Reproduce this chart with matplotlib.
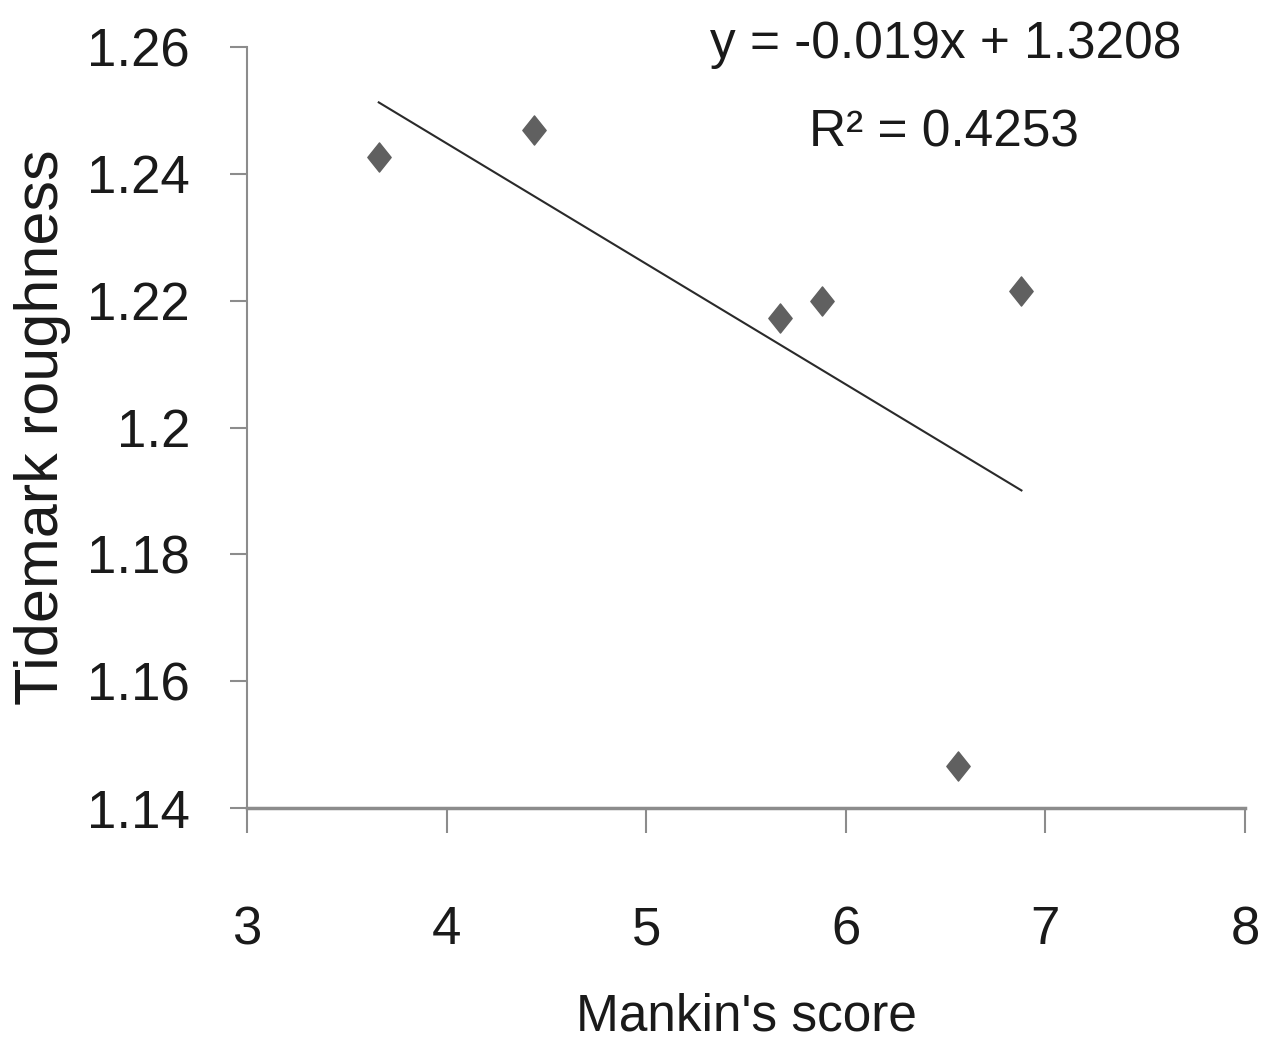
import matplotlib
matplotlib.use("Agg")
import matplotlib.pyplot as plt
import numpy as np
from matplotlib.path import Path

# Mankin's score vs tidemark roughness
mankin = [3.66, 4.44, 5.67, 5.88, 6.88, 6.56]
roughness = [1.2427, 1.2469, 1.2173, 1.2199, 1.2215, 1.1466]

# trendline as printed on chart
slope = -0.019
intercept = 1.3208
r2 = 0.4253

x_ticks = [3, 4, 5, 6, 7, 8]
y_ticks = [1.14, 1.16, 1.18, 1.2, 1.22, 1.24, 1.26]
y_tick_labels = ["1.14", "1.16", "1.18", "1.2", "1.22", "1.24", "1.26"]

plt.rcParams['font.family'] = ['Liberation Sans', 'DejaVu Sans']
txt = '#1a1a1a'
spine = '#8c8c8c'

fig = plt.figure(figsize=(12.61, 10.46), dpi=100)
ax = fig.add_axes([0.1959, 0.2275, 0.7914, 0.7276])

# taller-than-wide diamond like Excel's
diamond = Path([(0, 1), (0.8, 0), (0, -1), (-0.8, 0), (0, 1)],
               [Path.MOVETO, Path.LINETO, Path.LINETO, Path.LINETO, Path.CLOSEPOLY])
ax.plot(mankin, roughness, linestyle='none', marker=diamond, markersize=21,
        color='#606060', markeredgecolor='#606060', clip_on=False)

xs = np.array([min(mankin), max(mankin)])
ax.plot(xs, slope * xs + intercept, color='#2a2a2a', linewidth=1.5)

ax.set_xlim(3, 8)
ax.set_ylim(1.14, 1.26)
ax.set_xticks(x_ticks)
ax.set_xticklabels([str(v) for v in x_ticks])
ax.set_yticks(y_ticks)
ax.set_yticklabels(y_tick_labels)

for s in ['top', 'right']:
    ax.spines[s].set_visible(False)
for s in ['left', 'bottom']:
    ax.spines[s].set_color(spine)
ax.spines['left'].set_linewidth(1.5)
ax.spines['bottom'].set_linewidth(2.5)

ax.tick_params(axis='y', direction='out', length=12, width=1.5, color=spine,
               labelsize=38, labelcolor=txt, pad=29)
ax.tick_params(axis='x', direction='out', length=18, width=1.5, color=spine,
               labelsize=38, labelcolor=txt, pad=52)

ax.set_xlabel("Mankin's score", fontsize=37, color=txt, labelpad=27)
ax.set_ylabel("Tidemark roughness", fontsize=44, color=txt, labelpad=12)

ax.text(0.700, 0.9855, "y = -0.019x + 1.3208", transform=ax.transAxes,
        ha='center', va='baseline', fontsize=37, color=txt)
ax.text(0.698, 0.8686, "R\u00b2 = 0.4253", transform=ax.transAxes,
        ha='center', va='baseline', fontsize=37, color=txt)

fig.savefig("out.png", dpi=100)
